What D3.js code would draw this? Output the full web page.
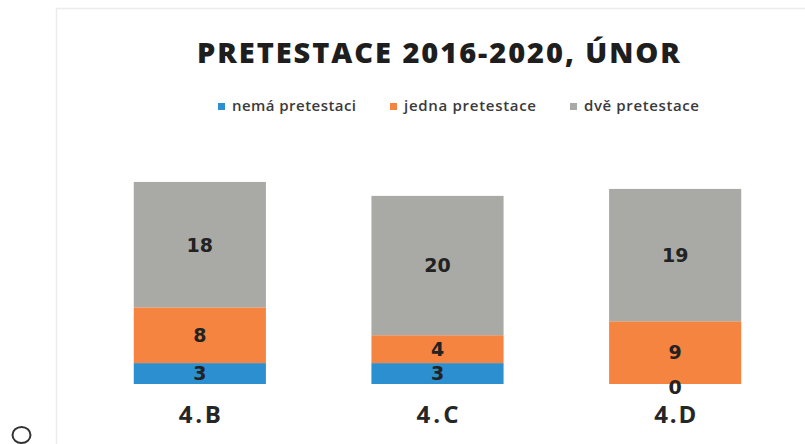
<!DOCTYPE html>
<html><head><meta charset="utf-8">
<script src="https://cdn.jsdelivr.net/npm/d3@7"></script>
<style>body{margin:0;background:#fff}svg{display:block}</style>
</head><body>
<svg id="c" width="805" height="444"></svg>
<script>
const categories = ["4.B", "4.C", "4.D"];
const seriesNames = ["nemá pretestaci", "jedna pretestace", "dvě pretestace"];
const nemaPretestaci = [3, 3, 0];
const jednaPretestace = [8, 4, 9];
const dvePretestace = [18, 20, 19];
const seriesColors = ["#2b8fd0", "#f4843f", "#a9aaa6"];
const title = "PRETESTACE 2016-2020, ÚNOR";

const svg = d3.select("#c");

// faint chart frame
svg.append("rect").attr("x", 56.5).attr("y", 8.5).attr("width", 760).attr("height", 450)
  .attr("fill", "none").attr("stroke", "#ececec").attr("stroke-width", 1.5);

const rows = categories.map((c, i) => ({cat: c, s0: nemaPretestaci[i], s1: jednaPretestace[i], s2: dvePretestace[i]}));
const keys = ["s0", "s1", "s2"];
const stacked = d3.stack().keys(keys)(rows);

const x = d3.scaleBand().domain(categories).range([81, 794]).paddingInner(0.444).paddingOuter(0.222);
const y = d3.scaleLinear().domain([0, 30]).range([384, 175]);

const g = svg.append("g");
stacked.forEach((layer, li) => {
  g.selectAll(null).data(layer).enter().append("rect")
    .attr("x", d => x(d.data.cat))
    .attr("width", x.bandwidth())
    .attr("y", d => y(d[1]))
    .attr("height", d => y(d[0]) - y(d[1]))
    .attr("fill", seriesColors[li]);
});
stacked.forEach((layer, li) => {
  g.selectAll(null).data(layer).enter().append("text")
    .attr("x", d => x(d.data.cat) + x.bandwidth() / 2)
    .attr("y", d => (y(d[0]) + y(d[1])) / 2 + (d[1] - d[0] === 0 ? 3 : 0))
    .attr("dy", "0.36em")
    .attr("text-anchor", "middle")
    .attr("font-family", "DejaVu Sans")
    .attr("font-weight", "bold")
    .attr("font-size", 19)
    .attr("fill", "#222")
    .text(d => d[1] - d[0]);
});

// x axis labels
const xAxis = d3.axisBottom(x).tickSize(0).tickPadding(0);
const ax = svg.append("g").attr("transform", "translate(0,384)").call(xAxis);
ax.select(".domain").remove();
ax.selectAll("text")
  .attr("y", 39).attr("dy", 0)
  .attr("font-family", "Open Sans").attr("font-weight", "bold").attr("font-size", 24)
  .attr("fill", "#262626")
  .attr("textLength", 42).attr("lengthAdjust", "spacing");

// title
svg.append("text").attr("x", 438.5).attr("y", 63).attr("text-anchor", "middle")
  .attr("font-family", "Open Sans").attr("font-weight", 800).attr("font-size", 29)
  .attr("fill", "#1e1e1e").attr("textLength", 483).attr("lengthAdjust", "spacing")
  .text(title);

// legend
const legX = [218, 390, 570];
const legW = [124, 132, 115];
const lg = svg.append("g");
seriesNames.forEach((n, i) => {
  lg.append("rect").attr("x", legX[i]).attr("y", 103).attr("width", 7).attr("height", 7).attr("fill", seriesColors[i]);
  lg.append("text").attr("x", legX[i] + 14).attr("y", 111)
    .attr("font-family", "Open Sans").attr("font-weight", 600).attr("font-size", 15)
    .attr("fill", "#3a3a3a").attr("textLength", legW[i]).attr("lengthAdjust", "spacing")
    .text(n);
});

// scan mark circle
svg.append("ellipse").attr("cx", 21.5).attr("cy", 435).attr("rx", 9).attr("ry", 8)
  .attr("fill", "none").attr("stroke", "#333").attr("stroke-width", 2);
</script>
</body></html>
